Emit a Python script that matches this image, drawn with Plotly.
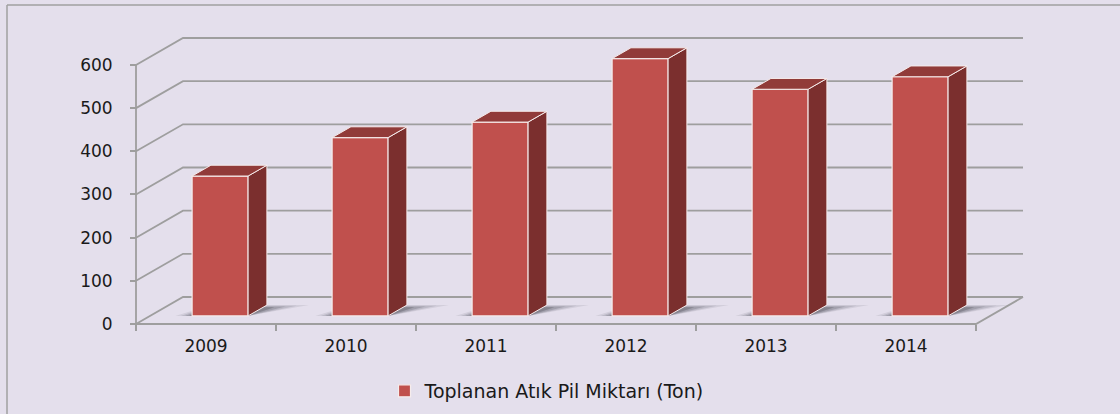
import plotly.graph_objects as go

# ---------------- data ----------------
years = ["2009", "2010", "2011", "2012", "2013", "2014"]
values = [324, 413, 449, 596, 525, 554]
y_ticks = [0, 100, 200, 300, 400, 500, 600]
series_name = "Toplanan Atık Pil Miktarı (Ton)"

# ---------------- geometry / style ----------------
W, H = 1120, 414
PX_CAT = 140.0          # pixels per category
PX_UNIT = 0.4317        # pixels per value unit
X0_PX, Y0_PX = 136, 324  # pixel of front-left-bottom corner
PLOT_L, PLOT_R, PLOT_T, PLOT_B = 120, 1040, 20, 335
DX = 47 / PX_CAT         # depth offset in category units
DY = 27 / PX_UNIT        # depth offset in value units
BAR_W = 0.4
D0, D1 = 0.3, 0.7        # bar depth span (fraction of full depth)

BG = "#E4DFEC"
GRID = "#9E9E9E"
FRONT = "#C0504D"
SIDE = "#7B2F2E"
TOP = "#913B39"
EDGE = "#F6ECEC"
FONT = "DejaVu Sans"

xmin = -0.5 - (X0_PX - PLOT_L) / PX_CAT
xmax = -0.5 + (PLOT_R - X0_PX) / PX_CAT
ymin = -(PLOT_B - Y0_PX) / PX_UNIT
ymax = (Y0_PX - PLOT_T) / PX_UNIT
n = len(years)
xl_edge, xr_edge = -0.5, n - 0.5


def px2paper_x(px):
    return (px - PLOT_L) / (PLOT_R - PLOT_L)


def px2paper_y(py):
    return (PLOT_B - py) / (PLOT_B - PLOT_T)


shapes = []
# back-wall / side-wall gridlines
for v in y_ticks:
    shapes.append(dict(type="path", xref="x", yref="y", layer="below",
                       path=f"M {xl_edge} {v} L {xl_edge + DX} {v + DY} L {xr_edge + DX} {v + DY}",
                       line=dict(color=GRID, width=1.8)))
# floor front and right edges
shapes.append(dict(type="path", xref="x", yref="y", layer="below",
                   path=f"M {xl_edge} 0 L {xr_edge} 0 L {xr_edge + DX} {DY}",
                   line=dict(color=GRID, width=1.8)))
# front vertical axis
shapes.append(dict(type="path", xref="x", yref="y", layer="below",
                   path=f"M {xl_edge} 0 L {xl_edge} {max(y_ticks)}",
                   line=dict(color=GRID, width=1.8)))

# soft shadows on the floor (layered for a gradient look)
for i, v in enumerate(values):
    xl = i - BAR_W / 2
    xr = i + BAR_W / 2
    for left, right, back, op in [(0.12, 0.30, 0.02, 0.10), (0.08, 0.22, 0.0, 0.14),
                                  (0.05, 0.15, -0.03, 0.20), (0.02, 0.08, -0.06, 0.28)]:
        f0 = D0
        f1 = D1 - 0.02 + back
        path = (f"M {xl - left + f0 * DX} {f0 * DY} L {xr + f0 * DX} {f0 * DY} "
                f"L {xr + right + f1 * DX} {f1 * DY} L {xl + f1 * DX} {f1 * DY} Z")
        shapes.append(dict(type="path", xref="x", yref="y", layer="below",
                           path=path, fillcolor=f"rgba(60,60,70,{op})",
                           line=dict(width=0)))

# outer chart border
shapes.append(dict(type="line", xref="paper", yref="paper",
                   x0=px2paper_x(7), y0=px2paper_y(5), x1=px2paper_x(1125), y1=px2paper_y(5),
                   line=dict(color="#A0A0A0", width=1.5)))
shapes.append(dict(type="line", xref="paper", yref="paper",
                   x0=px2paper_x(7), y0=px2paper_y(5), x1=px2paper_x(7), y1=px2paper_y(420),
                   line=dict(color="#A0A0A0", width=1.5)))

fig = go.Figure()

# front faces
fig.add_trace(go.Bar(
    x=[i + D0 * DX for i in range(n)], y=values, base=D0 * DY, width=BAR_W,
    marker=dict(color=FRONT, line=dict(color=EDGE, width=1.2)),
    name=series_name, showlegend=True, hoverinfo="skip"))

# side and top faces
dd = D1 - D0
for i, v in enumerate(values):
    xl = i - BAR_W / 2 + D0 * DX
    xr = i + BAR_W / 2 + D0 * DX
    b = D0 * DY
    t = b + v
    fig.add_trace(go.Scatter(
        x=[xr, xr + dd * DX, xr + dd * DX, xr, xr],
        y=[b, b + dd * DY, t + dd * DY, t, b],
        fill="toself", fillcolor=SIDE, mode="lines",
        line=dict(color=EDGE, width=1), showlegend=False, hoverinfo="skip"))
    fig.add_trace(go.Scatter(
        x=[xl, xr, xr + dd * DX, xl + dd * DX, xl],
        y=[t, t, t + dd * DY, t + dd * DY, t],
        fill="toself", fillcolor=TOP, mode="lines",
        line=dict(color=EDGE, width=1), showlegend=False, hoverinfo="skip"))

fig.update_layout(
    width=W, height=H,
    margin=dict(l=PLOT_L, r=W - PLOT_R, t=PLOT_T, b=H - PLOT_B, autoexpand=False),
    paper_bgcolor=BG, plot_bgcolor=BG,
    font=dict(family=FONT, size=17, color="#1A1A1A"),
    shapes=shapes,
    showlegend=True,
    legend=dict(orientation="h", x=px2paper_x(547), xanchor="center",
                y=px2paper_y(391), yanchor="middle",
                font=dict(family=FONT, size=19, color="#1A1A1A"),
                bgcolor="rgba(0,0,0,0)"),
    xaxis=dict(range=[xmin, xmax], showgrid=False, zeroline=False, showline=False,
               anchor="free", position=(0 - ymin) / (ymax - ymin),
               tickmode="array", tickvals=list(range(n)), ticktext=years,
               ticks="", ticklabelstandoff=10,
               minor=dict(tickmode="array",
                          tickvals=[i - 0.5 for i in range(n + 1)],
                          ticks="outside", ticklen=6, tickcolor=GRID, tickwidth=1.5),
               fixedrange=True),
    yaxis=dict(range=[ymin, ymax], showgrid=False, zeroline=False, showline=False,
               anchor="free", position=(xl_edge - xmin) / (xmax - xmin),
               tickmode="array", tickvals=y_ticks,
               ticks="outside", ticklen=6, tickcolor=GRID, tickwidth=1.5,
               ticklabelstandoff=14, fixedrange=True),
)

fig.write_html("out.html", config={"displayModeBar": False},
               post_script="document.body.style.margin='0';")
